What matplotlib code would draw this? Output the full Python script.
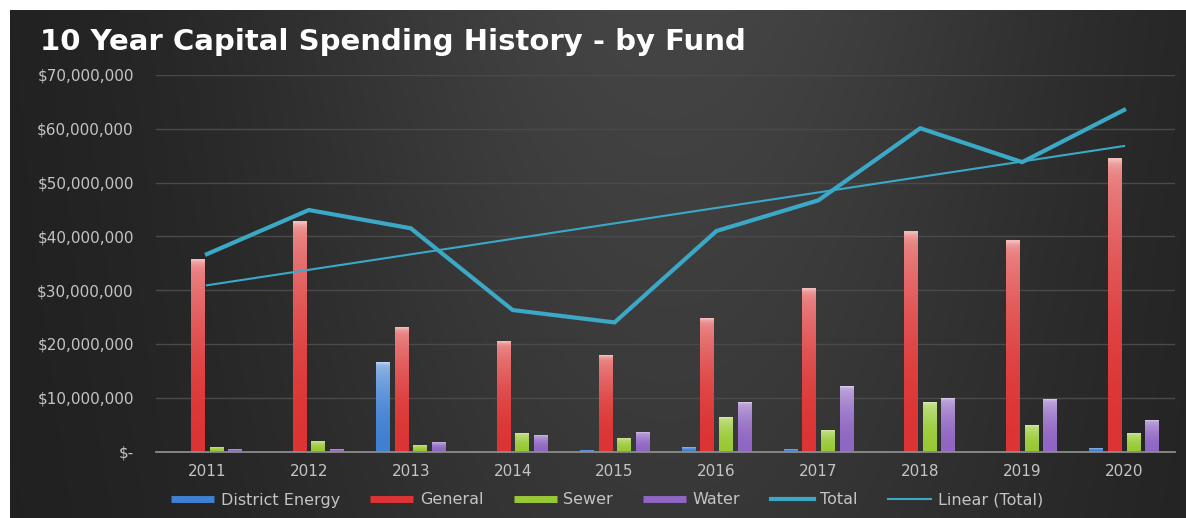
import numpy as np
import matplotlib
matplotlib.use("Agg")
import matplotlib.pyplot as plt
from matplotlib.lines import Line2D
from matplotlib.colors import to_rgb
from matplotlib.ticker import FuncFormatter

# values in $ millions
years = ["2011", "2012", "2013", "2014", "2015", "2016", "2017", "2018", "2019", "2020"]
district_energy = [0.0, 0.0, 16.4, 0.0, 0.1, 0.7, 0.3, 0.0, 0.0, 0.4]
general = [35.6, 42.6, 22.9, 20.3, 17.7, 24.6, 30.2, 40.8, 39.1, 54.3]
sewer = [0.7, 1.8, 1.0, 3.3, 2.4, 6.3, 3.9, 9.1, 4.8, 3.2]
water = [0.2, 0.3, 1.5, 2.8, 3.5, 9.1, 11.9, 9.7, 9.5, 5.6]
total = [36.7, 44.9, 41.5, 26.3, 24.0, 41.0, 46.7, 60.1, 53.8, 63.5]

series = [("District Energy", district_energy, "#3f80d2"),
          ("General", general, "#dc3434"),
          ("Sewer", sewer, "#98c934"),
          ("Water", water, "#8f66c2")]
line_col = "#3ba8c6"
txt_col = "#c4c4c4"

W, H = 1186, 518
fig = plt.figure(figsize=(W / 100, H / 100), dpi=100, facecolor="white")

# dark gradient background (white strip left/top like the screenshot)
bg = fig.add_axes([10 / W, 0, 1 - 10 / W, 1 - 10 / H])
bg.axis("off")
gx = np.linspace(0, 1, 400)
gy = np.linspace(0, 1, 200)
X, Y = np.meshgrid(gx, gy)
shade = 0.12 + 0.15 * np.exp(-((X - 0.56) / 0.36) ** 2) * (1 - 0.35 * Y)
bg.imshow(np.dstack([shade, shade, shade]), extent=[0, 1, 0, 1], aspect="auto")

fig.text(40 / W, 1 - 42 / H, "10 Year Capital Spending History - by Fund",
         color="white", fontsize=21, fontweight="bold", va="center", ha="left")

ax = fig.add_axes([156 / W, (H - 451.5) / H, (1175 - 156) / W, (451.5 - 75) / H])
ax.set_facecolor("none")

x = np.arange(len(years))
width = 0.132
step = 0.183
offsets = (np.arange(4) - 1.5) * step

for (name, vals, col), off in zip(series, offsets):
    bars = ax.bar(x + off, np.array(vals) * 1e6, width, color=col, zorder=3)
    base = np.array(to_rgb(col))
    t = np.linspace(0, 1, 80)[:, None]          # 0 = top, 1 = bottom
    f = 0.42 * (1 - t) ** 2 + 0.25 * np.exp(-t / 0.02)
    grad = base * (1 - f) + f
    img = np.repeat(grad[:, None, :], 2, axis=1)
    for p in bars.patches:
        h = p.get_height()
        if h <= 0:
            continue
        x0 = p.get_x()
        ax.imshow(img, extent=[x0, x0 + p.get_width(), 0, h], aspect="auto",
                  zorder=3.5, interpolation="bilinear")

ax.plot(x, np.array(total) * 1e6, color=line_col, lw=3.0, zorder=5,
        solid_joinstyle="miter")
k, b = np.polyfit(x, total, 1)
ax.plot(x, (k * x + b) * 1e6, color=line_col, lw=1.5, zorder=4)

ax.set_xlim(-0.5, len(years) - 0.5)
ax.set_ylim(0, 70e6)
ax.set_yticks(np.arange(0, 70e6 + 1, 10e6))
ax.yaxis.set_major_formatter(FuncFormatter(lambda v, _: "$-" if v == 0 else f"${v:,.0f}"))
ax.set_xticks(x)
ax.set_xticklabels(years)
ax.tick_params(axis="y", length=0, pad=16, labelsize=11, labelcolor=txt_col)
ax.tick_params(axis="x", length=0, pad=9, labelsize=11, labelcolor=txt_col)
ax.grid(axis="y", color="#4a4a4a", lw=1, zorder=0)
for s in ["top", "right", "left"]:
    ax.spines[s].set_visible(False)
ax.spines["bottom"].set_color("#8c8c8c")
ax.spines["bottom"].set_linewidth(1.3)
ax.spines["bottom"].set_zorder(6)

handles = [Line2D([], [], color=c, lw=5, solid_capstyle="butt") for _, _, c in series]
handles.append(Line2D([], [], color=line_col, lw=3.0))
handles.append(Line2D([], [], color=line_col, lw=1.5))
labels = [s[0] for s in series] + ["Total", "Linear (Total)"]
fig.legend(handles, labels, loc="center", bbox_to_anchor=(607 / W, 18 / H), ncol=6,
           frameon=False, fontsize=11.5, labelcolor=txt_col, handlelength=2.7,
           handletextpad=0.4, columnspacing=1.9)

fig.savefig("out.png", dpi=100, facecolor="white")
